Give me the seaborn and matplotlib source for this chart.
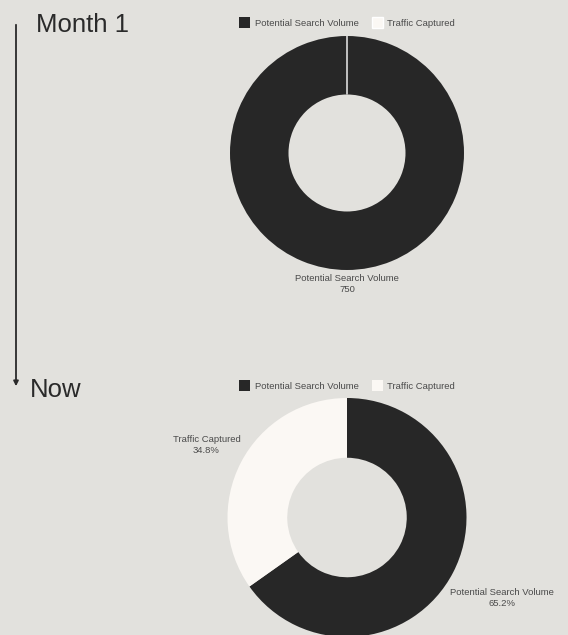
import matplotlib
matplotlib.use("Agg")
import matplotlib.pyplot as plt
from matplotlib.patches import FancyArrowPatch
import seaborn as sns
import numpy as np

# data
categories = ["Potential Search Volume", "Traffic Captured"]
month1_values = [750, 0]          # raw counts, traffic captured is zero
now_share = [65.2, 34.8]          # percent
panel_titles = ["Month 1", "Now"]

bg = "#e2e1dd"
slice_colors = ["#272727", "#fbf8f4"]
title_color = "#2a2a2a"
label_color = "#4a4a4a"

sns.set_theme(style="white", rc={"figure.facecolor": bg, "axes.facecolor": bg,
                                 "savefig.facecolor": bg})
plt.rcParams["font.family"] = ["Liberation Sans", "DejaVu Sans"]

W, H = 568, 635
fig = plt.figure(figsize=(W / 100, H / 100), dpi=100)
renderer = fig.canvas.get_renderer()


def px_axes(cx, cy, r):
    return fig.add_axes([(cx - r) / W, 1 - (cy + r) / H, 2 * r / W, 2 * r / H])


def donut(ax, values, fmt, legend_y):
    wedges, _ = ax.pie(values, colors=slice_colors, startangle=90, counterclock=False,
                       radius=1, wedgeprops=dict(width=0.5, linewidth=0))
    ax.set_xlim(-1, 1)
    ax.set_ylim(-1, 1)
    ax.set_aspect("equal")
    ax.axis("off")

    # zero slices still show as a thin white divider
    for w, v in zip(wedges, values):
        if v == 0:
            w.set_edgecolor("white")
            w.set_linewidth(1.0)

    # outside labels, pushed out so the box clears the ring
    for w, v, name in zip(wedges, values, categories):
        if v == 0:
            continue
        theta = np.deg2rad((w.theta1 + w.theta2) / 2)
        c, s = np.cos(theta), np.sin(theta)
        t = ax.annotate(f"{name}\n{fmt(v)}", xy=(c, s), xytext=(0, 0),
                        textcoords="offset points", ha="center", va="center",
                        fontsize=6.8, color=label_color, linespacing=1.3)
        bb = t.get_window_extent(renderer)
        d = abs(c) * bb.width / 2 + abs(s) * bb.height / 2 + 4
        t.set_position((c * d * 0.72, s * d * 0.72))

    pos = ax.get_position()
    ax.legend(wedges, categories, loc="center", ncol=2, frameon=False,
              bbox_to_anchor=((pos.x0 + pos.x1) / 2, 1 - legend_y / H),
              bbox_transform=fig.transFigure, fontsize=6.8,
              handlelength=1.17, handleheight=1.41, handletextpad=0.45,
              columnspacing=1.4, labelcolor=label_color)


ax_top = px_axes(347, 153, 117)
donut(ax_top, month1_values, lambda v: f"{v:g}", 22.8)

ax_bot = px_axes(347, 517.5, 119.5)
donut(ax_bot, now_share, lambda v: f"{v:.1f}%", 385.5)

# timeline arrow and titles
fig.add_artist(FancyArrowPatch((16 / W, 1 - 22 / H), (16 / W, 1 - 389 / H),
                               transform=fig.transFigure, arrowstyle="-|>",
                               mutation_scale=7, lw=1.3, color=title_color))
fig.text(36 / W, 1 - 31.7 / H, panel_titles[0], fontsize=18.5, color=title_color,
         ha="left", va="baseline")
fig.text(30 / W, 1 - 396.7 / H, panel_titles[1], fontsize=18.5, color=title_color,
         ha="left", va="baseline")

fig.savefig("out.png", dpi=100, facecolor=bg)
